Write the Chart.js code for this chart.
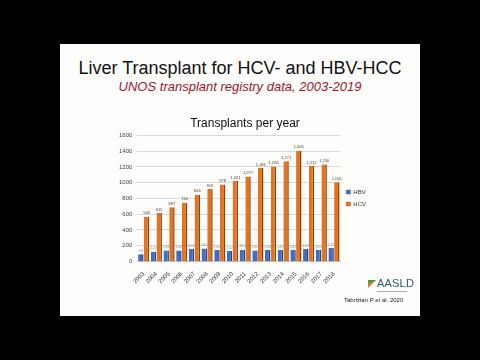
<!DOCTYPE html>
<html>
<head>
<meta charset="utf-8">
<script src="https://cdn.jsdelivr.net/npm/chart.js@4.4.1/dist/chart.umd.min.js"></script>
<style>
  html, body { margin: 0; padding: 0; background: #000; }
  body { width: 480px; height: 360px; position: relative; overflow: hidden; font-family: "Liberation Sans", Arial, sans-serif; }
  .slide { position: absolute; left: 60px; top: 44px; width: 360px; height: 272px; background: #fdfdfb; }
  .title { position: absolute; left: 0; top: 14px; width: 360px; text-align: center; font-size: 18px; color: #111; }
  .subtitle { position: absolute; left: 0; top: 35px; width: 360px; text-align: center; font-size: 13px; font-style: italic; color: #a3142c; }
  #wrap { position: absolute; left: 0; top: 66px; width: 360px; height: 178px; }
  .logo { position: absolute; left: 308px; top: 233px; font-size: 11px; color: #2b5d6b; letter-spacing: 0.2px; }
  .logo .mark { display: inline-block; width: 0; height: 0; border-left: 8px solid #e07a1e; border-bottom: 8px solid transparent; vertical-align: -1px; margin-right: 1px; position: relative; }
  .logo .mark:after { content: ''; position: absolute; left: -8px; top: 0; width: 0; height: 0; border-top: 4px solid #3aa055; border-right: 8px solid transparent; }
  .logo .line { position: absolute; left: 9px; top: 14px; width: 30px; height: 1px; background: #aaa; }
  .cite { position: absolute; left: 284px; top: 253px; font-size: 6px; color: #222; }
</style>
</head>
<body>
<div class="slide">
  <div class="title">Liver Transplant for HCV- and HBV-HCC</div>
  <div class="subtitle">UNOS transplant registry data, 2003-2019</div>
  <div id="wrap"><canvas id="chart"></canvas></div>
  <div class="logo"><span class="mark"></span>AASLD<div class="line"></div></div>
  <div class="cite">Tabrizian P et al. 2020</div>
</div>
<script>
// ===========================
// DATA
// ===========================
const years = ['2003', '2004', '2005', '2006', '2007', '2008', '2009', '2010',
               '2011', '2012', '2013', '2014', '2015', '2016', '2017', '2018'];
const hbv = [93, 124, 138, 140, 158, 165, 145, 132, 150, 140, 145, 145, 145, 157, 145, 170];
const hcv = [566, 615, 687, 744, 846, 919, 978, 1021, 1077, 1186, 1206, 1271, 1406, 1212, 1230, 1005];
const yTicks = [0, 200, 400, 600, 800, 1000, 1200, 1400, 1600];

// ===========================
// BAR VALUE LABELS
// ===========================
const valueLabels = {
  id: 'valueLabels',
  afterDatasetsDraw(chart) {
    const ctx = chart.ctx;
    ctx.save();
    ctx.font = '4px "Liberation Sans", Arial, sans-serif';
    ctx.textAlign = 'center';
    ctx.textBaseline = 'bottom';
    chart.data.datasets.forEach((ds, i) => {
      const meta = chart.getDatasetMeta(i);
      ctx.fillStyle = i === 0 ? '#8a97aa' : '#5a4030';
      meta.data.forEach((bar, j) => {
        ctx.fillText(ds.data[j].toLocaleString('en-US'), bar.x, bar.y - 1.5);
      });
    });
    ctx.restore();
  }
};

const font6 = { size: 6, family: '"Liberation Sans", Arial, sans-serif' };

new Chart(document.getElementById('chart'), {
  type: 'bar',
  data: {
    labels: years,
    datasets: [
      { label: 'HBV', data: hbv, backgroundColor: '#3f6ec2', borderColor: '#24458a',
        borderWidth: { right: 1.5 }, borderSkipped: false },
      { label: 'HCV', data: hcv, backgroundColor: '#e4741f', borderColor: '#8e3f0b',
        borderWidth: { right: 1.5 }, borderSkipped: false }
    ]
  },
  options: {
    responsive: true,
    maintainAspectRatio: false,
    animation: false,
    layout: { padding: { left: 54, right: 44, top: 0, bottom: 2 } },
    datasets: { bar: { categoryPercentage: 0.9, barPercentage: 0.95 } },
    plugins: {
      title: {
        display: true, text: 'Transplants per year', color: '#111',
        font: { size: 12, family: '"Liberation Sans", Arial, sans-serif', weight: 'normal' },
        padding: { top: 6, bottom: 5 }
      },
      legend: {
        position: 'right',
        labels: { boxWidth: 4, boxHeight: 4, padding: 6, color: '#333', font: font6 }
      },
      tooltip: { enabled: false }
    },
    scales: {
      y: {
        min: 0, max: 1600,
        afterBuildTicks: axis => { axis.ticks = yTicks.map(v => ({ value: v })); },
        ticks: { color: '#444', padding: 5, font: font6, callback: v => String(v) },
        grid: { color: '#d9d9d9', drawTicks: false },
        border: { display: false }
      },
      x: {
        ticks: { color: '#333', minRotation: 45, maxRotation: 45, padding: 1, autoSkip: false, font: font6 },
        grid: { display: false },
        border: { color: '#bbb' }
      }
    }
  },
  plugins: [valueLabels]
});
</script>
</body>
</html>
